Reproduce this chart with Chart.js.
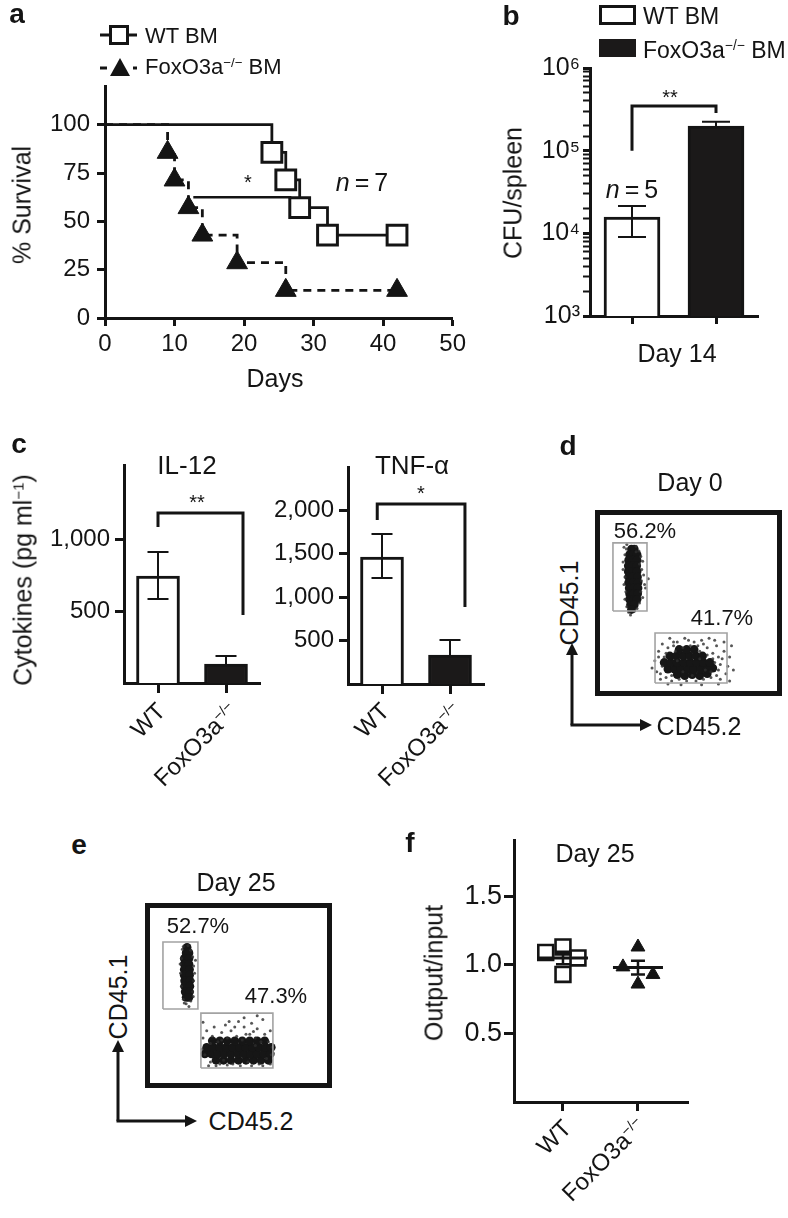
<!DOCTYPE html>
<html><head><meta charset="utf-8">
<script src="https://cdn.jsdelivr.net/npm/chart.js@4"></script>
<style>
body{margin:0;background:#fff;}
#fig{position:relative;width:788px;height:1218px;overflow:hidden;background:#fff;font-family:'Liberation Sans',Arial,Helvetica,sans-serif;color:#141414;}
canvas{position:absolute;}
.t{position:absolute;white-space:nowrap;line-height:1;}
.t sup{font-size:60%;line-height:0;vertical-align:0.55em;}
svg{position:absolute;overflow:visible;}
</style></head><body><div id="fig"></div>
<script>
// ---------------- DATA ----------------
// a: Kaplan-Meier survival
const survDaysWT = [0, 24, 26, 28, 32, 42];
const survWT     = [100, 85.7, 71.4, 57.1, 42.9, 42.9];
const survDaysKO = [0, 9, 10, 12, 14, 19, 26, 42];
const survKO     = [100, 85.7, 71.4, 57.1, 42.9, 28.6, 14.3, 14.3];
const survSigDays = [12.7, 26.8];
const survSigLevel = 62.5;
const survXTicks = [0, 10, 20, 30, 40, 50];
const survYTicks = [0, 25, 50, 75, 100];

// b: CFU per spleen (log axis)
const cfuGroups = ['WT BM', 'FoxO3a−/− BM'];
const cfuMean   = [15700, 198000];
const cfuHigh   = [21400, 224000];
const cfuLow    = [9000, 198000];
const cfuBracket = {left: 100000, top: 347000, right: 285000};

// c: cytokines
const cytoGroups = ['WT', 'FoxO3a−/−'];
const il12Mean = [743, 132];
const il12High = [910, 188];
const il12Low  = [583, 132];
const il12Ticks = [500, 1000];
const il12Bracket = {left: 1083, top: 1180, right: 472};
const tnfMean = [1463, 334];
const tnfHigh = [1728, 507];
const tnfLow  = [1221, 334];
const tnfTicks = [500, 1000, 1500, 2000];
const tnfBracket = {left: 1889, top: 2074, right: 887};

// d, e: flow cytometry (CD45.2 on x, CD45.1 on y, 0-100 display units)
const dGates = [[9.6, 45.7, 27.8, 82.3], [32.1, 7.0, 70.6, 33.9]];
const dCore1 = [[19.5,79],[21,79],[18.5,76],[20.5,76],[22.5,76],[18,73],[20.3,73],[22.5,73],[17.8,70],[20,70],[22.3,70],[17.8,67],[20,67],[22.5,67],[18,64],[20.3,64],[22.7,64],[18,61],[20.5,61],[23,61],[18.3,58],[20.7,58],[23,58],[18.5,55],[20.8,55],[22.8,55],[18.5,52],[20.7,52],[22.5,52],[19,49],[21,49],[19.5,46.5]];
const dDots1 = [[15.5,80],[17,81.5],[22,80.5],[23.5,78],[24.5,75],[16,76],[15,72],[23.8,71],[25,68],[26,65],[24.8,62],[28.5,63],[16,64],[15.5,60],[16.5,56],[24.5,56],[25.5,53],[23.8,50],[16,52],[17,48],[22.5,47],[18,45],[19,43.5],[21,45.5],[27,58],[22,77.5],[15,68],[25.5,72.5],[26.5,60],[16.8,79]];
const dCore2 = [[44,11.5],[48,11],[52,11.5],[56,11],[60,12],[39,14.5],[42.5,14.5],[46,14.5],[49.5,14.5],[53,14.5],[56.5,14.5],[60,14.5],[63,15],[37,18],[40.5,18],[44,18],[47.5,18],[51,18],[54.5,18],[58,18],[61.5,18],[40,21.5],[43.5,21.5],[47,21.5],[50.5,21.5],[54,21.5],[57.5,21.5],[45,25],[49,25],[53,25]];
const dDots2 = [[32,19],[33,13],[34,24],[35,9],[36,28],[37,21],[38,10],[39,26],[40,31],[41,8],[43,24],[44,29],[45,9],[47,26],[48,31],[49,8],[51,27],[53,29],[54,8],[56,24],[57,30],[58,9],[60,26],[61,31],[62,10],[63,23],[64,18],[65,27],[66,14],[67,9],[68,20],[69,24],[70,12],[71,16],[72,8],[44,19],[56,20],[62,13],[36,16],[67,17],[73,27],[59,14],[47,13],[52,11],[30.5,15],[34,21],[42,27],[50,30],[55,27],[64,30],[69,29],[72,21],[74,14],[39,6.5],[46,6],[57,6],[66,6.5],[35,12],[38,23],[41,11],[60,22],[63,20],[65,11],[66,21],[42,29],[58,28]];
const eGates = [[9.6, 42.7, 28.3, 78.9], [29.9, 10.8, 68.4, 40.5]];
const eCore1 = [[22.5,76],[22,73],[23.5,73],[21,70],[23.5,70],[21,67],[23.5,67],[21,64],[23.8,64],[21,61],[23.8,61],[21.2,58],[24,58],[21.2,55],[24,55],[21.5,52],[23.8,52],[22,49],[23.5,49]];
const eDots1 = [[20,75],[24.5,74.5],[25.5,71],[19.5,70],[26,66],[19,62],[26,58],[19.5,55],[25.5,52],[20.5,48],[24.5,47],[22,45.5],[23.5,44],[26.5,62],[18.8,67],[21,46],[25.8,49.5],[27,69],[20.5,76.5],[23,77]];
const eCore2 = [[38,15],[42,15],[46,15],[50,15],[54,15],[58,15],[62,15],[66,15],[32,18.5],[35.5,18.5],[39,18.5],[42.5,18.5],[46,18.5],[49.5,18.5],[53,18.5],[56.5,18.5],[60,18.5],[63.5,18.5],[67,18.5],[33,22],[36.5,22],[40,22],[43.5,22],[47,22],[50.5,22],[54,22],[57.5,22],[61,22],[64.5,22],[67.5,22],[36,25.5],[40,25.5],[44,25.5],[48,25.5],[52,25.5],[56,25.5],[60,25.5],[64,25.5]];
const eDots2 = [[31,27],[32,18],[33,31],[35,14],[36,28],[37,33],[39,25],[40,13],[41,30],[43,34],[44,27],[46,31],[47,13],[49,28],[50,36],[52,26],[53,33],[55,14],[56,29],[57,35],[59,27],[60,32],[61,13],[62,25],[63,37],[64,29],[65,16],[66,25],[67,31],[67.5,18],[68,22],[53,38],[45,36],[35,24],[59,23],[42,15],[31,35.5],[60,39],[30.5,21],[34,12],[38,12],[44,12.5],[51,12],[57,12],[63,12],[67,13],[48,33],[41,26],[58,30.5],[54,29]];

// f: output/input ratio
const ratioGroups = ['WT', 'FoxO3a−/−'];
const ratioWT = [1.09, 1.13, 1.05, 0.93];
const ratioKO = [1.13, 0.985, 0.93, 0.86];
const ratioMean = [1.05, 0.98];
const ratioSem  = [0.045, 0.05];
const ratioTicks = [0.5, 1.0, 1.5];

// ---------------- STYLE / HELPERS ----------------
const FONT = "'Liberation Sans', Arial, Helvetica, sans-serif";
const INK = '#141414';
Chart.defaults.font.family = FONT;
Chart.defaults.color = INK;
const fig = document.getElementById('fig');

function makeCanvas(x, y, w, h) {
  const c = document.createElement('canvas');
  c.width = w; c.height = h;
  c.style.left = x + 'px'; c.style.top = y + 'px';
  c.style.width = w + 'px'; c.style.height = h + 'px';
  fig.appendChild(c);
  return c;
}
const fixW = w => s => { s.width = w; };
const fixH = h => s => { s.height = h; };
const setTicks = vals => s => { s.ticks = vals.map(v => ({value: v})); };
function gridOpt(len) {
  return {display: true, drawOnChartArea: false, drawTicks: true, tickLength: len, tickWidth: 3, color: INK};
}
const borderOpt = {display: true, width: 3, color: INK};
const baseOpts = {responsive: false, animation: false, devicePixelRatio: 1, events: []};

const annot = {
  id: 'annot',
  afterDatasetsDraw(chart, args, o) {
    const ctx = chart.ctx, xs = chart.scales.x, ys = chart.scales.y;
    ctx.save();
    ctx.strokeStyle = INK;
    (o.errors || []).forEach(e => {
      const x = chart.getDatasetMeta(0).data[e.i].x;
      const yh = ys.getPixelForValue(e.hi), yl = ys.getPixelForValue(e.lo);
      ctx.lineWidth = 2;
      ctx.beginPath();
      ctx.moveTo(x, yl); ctx.lineTo(x, yh);
      ctx.moveTo(x - o.cap / 2, yh); ctx.lineTo(x + o.cap / 2, yh);
      if (e.lo < e.m) { ctx.moveTo(x - o.cap / 2, yl); ctx.lineTo(x + o.cap / 2, yl); }
      ctx.stroke();
    });
    (o.brackets || []).forEach(b => {
      const x1 = xs.getPixelForValue(b.x1), x2 = xs.getPixelForValue(b.x2);
      ctx.lineWidth = 3;
      ctx.beginPath();
      ctx.moveTo(x1, ys.getPixelForValue(b.left));
      ctx.lineTo(x1, ys.getPixelForValue(b.top));
      ctx.lineTo(x2, ys.getPixelForValue(b.top));
      ctx.lineTo(x2, ys.getPixelForValue(b.right));
      ctx.stroke();
    });
    (o.means || []).forEach(m => {
      const x = xs.getPixelForValue(m.x);
      const ym = ys.getPixelForValue(m.m), yh = ys.getPixelForValue(m.m + m.s), yl = ys.getPixelForValue(m.m - m.s);
      ctx.lineWidth = 3;
      ctx.beginPath();
      ctx.moveTo(x - o.meanHalf, ym); ctx.lineTo(x + o.meanHalf, ym);
      ctx.stroke();
      ctx.lineWidth = 2.5;
      ctx.beginPath();
      ctx.moveTo(x, yl); ctx.lineTo(x, yh);
      ctx.moveTo(x - o.capHalf, yh); ctx.lineTo(x + o.capHalf, yh);
      ctx.moveTo(x - o.capHalf, yl); ctx.lineTo(x + o.capHalf, yl);
      ctx.stroke();
    });
    ctx.restore();
  }
};
const frame = {
  id: 'frame',
  afterDraw(chart) {
    const a = chart.chartArea, ctx = chart.ctx;
    ctx.save(); ctx.strokeStyle = INK; ctx.lineWidth = 5;
    ctx.strokeRect(a.left + 2.5, a.top + 2.5, a.right - a.left - 5, a.bottom - a.top - 5);
    ctx.restore();
  }
};

function txt(html, x, y, o = {}) {
  const d = document.createElement('div');
  d.className = 't'; d.innerHTML = html;
  d.style.fontSize = (o.size || 25) + 'px';
  if (o.bold) d.style.fontWeight = 'bold';
  if (o.italic) d.style.fontStyle = 'italic';
  if (o.anchor === 'left') {
    d.style.left = x + 'px'; d.style.top = y + 'px'; d.style.transform = 'translate(0,-50%)';
  } else if (o.anchor === 'rot45') {
    d.style.right = (788 - x) + 'px'; d.style.top = y + 'px';
    d.style.transformOrigin = '100% 50%';
    d.style.transform = 'translateY(-50%) rotate(-45deg)';
  } else {
    d.style.left = x + 'px'; d.style.top = y + 'px';
    d.style.transform = 'translate(-50%,-50%)' + (o.rot ? ' rotate(' + o.rot + 'deg)' : '');
  }
  fig.appendChild(d);
}
function svg(inner, x, y, w, h) {
  const s = document.createElementNS('http://www.w3.org/2000/svg', 'svg');
  s.setAttribute('width', w); s.setAttribute('height', h);
  s.style.left = x + 'px'; s.style.top = y + 'px';
  s.innerHTML = inner;
  fig.appendChild(s);
}
const KO = 'FoxO3a<sup>−/−</sup>';

// ---------------- PANEL a ----------------
new Chart(makeCanvas(0, 0, 470, 400), {
  type: 'line',
  data: {datasets: [
    {label: 'WT BM', data: survDaysWT.map((d, i) => ({x: d, y: survWT[i]})), stepped: 'before',
     borderColor: INK, borderWidth: 2.8, fill: false, pointStyle: 'rect',
     pointRadius: survDaysWT.map((d, i) => i === 0 ? 0 : 14), pointBackgroundColor: '#fff',
     pointBorderColor: INK, pointBorderWidth: 3},
    {label: 'FoxO3a−/− BM', data: survDaysKO.map((d, i) => ({x: d, y: survKO[i]})), stepped: 'before',
     borderColor: INK, borderWidth: 2.8, borderDash: [8, 6], fill: false, pointStyle: 'triangle',
     pointRadius: survDaysKO.map((d, i) => i === 0 ? 0 : 12), pointBackgroundColor: INK,
     pointBorderColor: INK, pointBorderWidth: 1},
    {label: 'p', data: survSigDays.map(d => ({x: d, y: survSigLevel})), borderColor: INK, borderWidth: 2.5, pointRadius: 0}
  ]},
  options: Object.assign({}, baseOpts, {
    layout: {padding: {left: 35, right: 17, top: 86, bottom: 32}},
    plugins: {legend: {display: false}, tooltip: {enabled: false}},
    scales: {
      x: {type: 'linear', min: 0, max: 50, afterBuildTicks: setTicks(survXTicks), afterFit: fixH(50),
          grid: gridOpt(8), border: borderOpt, ticks: {font: {size: 24}, padding: 4, autoSkip: false, maxRotation: 0}},
      y: {type: 'linear', min: 0, max: 120, afterBuildTicks: setTicks(survYTicks), afterFit: fixW(70),
          grid: gridOpt(8), border: borderOpt, ticks: {font: {size: 24}, padding: 7, autoSkip: false}}
    }
  })
});
txt('a', 17, 14, {bold: true, size: 28});
svg('<line x1="5" y1="15" x2="42" y2="15" stroke="#141414" stroke-width="3"/>' +
    '<rect x="15.5" y="6.5" width="17" height="17" fill="#fff" stroke="#141414" stroke-width="3"/>' +
    '<line x1="5" y1="48" x2="12" y2="48" stroke="#141414" stroke-width="3"/>' +
    '<line x1="38" y1="48" x2="42" y2="48" stroke="#141414" stroke-width="3"/>' +
    '<polygon points="15,56 35,56 25,38" fill="#141414"/>', 95, 20, 50, 65);
txt('WT BM', 145, 36, {anchor: 'left', size: 22});
txt(KO + ' BM', 145, 67, {anchor: 'left', size: 22});
txt('% Survival', 22, 205, {rot: -90});
txt('Days', 275, 378);
txt('*', 248, 182, {size: 20});
txt('<i>n</i>\u2009=\u20097', 362, 182);

// ---------------- PANEL b ----------------
const supDigits = ['⁰','¹','²','³','⁴','⁵','⁶','⁷','⁸','⁹'];
new Chart(makeCanvas(470, 0, 318, 400), {
  type: 'bar',
  data: {labels: cfuGroups, datasets: [{data: cfuMean, backgroundColor: ['#fff', '#1b1919'],
    borderColor: INK, borderWidth: 3, barThickness: 56}]},
  options: Object.assign({}, baseOpts, {
    layout: {padding: {left: 60, right: 30, top: 68, bottom: 44}},
    plugins: {legend: {display: false}, tooltip: {enabled: false},
      annot: {cap: 28, errors: cfuMean.map((m, i) => ({i, m, hi: cfuHigh[i], lo: cfuLow[i]})),
              brackets: [{x1: 0, x2: 1, left: cfuBracket.left, top: cfuBracket.top, right: cfuBracket.right}]}},
    scales: {
      x: {offset: true, afterFit: fixH(40), grid: Object.assign(gridOpt(8), {offset: false}), border: borderOpt,
          ticks: {display: false}},
      y: {type: 'logarithmic', min: 1e3, max: 1e6, afterFit: fixW(60),
          grid: Object.assign(gridOpt(7), {tickWidth: c => {const l = Math.log10(c.tick ? c.tick.value : 1); return Math.abs(l - Math.round(l)) < 1e-6 ? 3 : 2;}}),
          border: borderOpt,
          ticks: {font: {size: 25}, padding: 3, autoSkip: false,
                  callback: v => {const l = Math.log10(v); const r = Math.round(l); return Math.abs(l - r) < 1e-6 ? '10' + supDigits[r] : '';}}}
    }
  }),
  plugins: [annot]
});
txt('b', 511, 16, {bold: true, size: 28});
svg('<rect x="1.5" y="1.5" width="34" height="17" fill="#fff" stroke="#141414" stroke-width="3"/>' +
    '<rect x="0" y="34" width="37" height="18" fill="#1b1919"/>', 599, 5, 40, 55);
txt('WT BM', 643, 16, {anchor: 'left', size: 23});
txt(KO + ' BM', 643, 50, {anchor: 'left', size: 23});
txt('CFU/spleen', 513, 193, {rot: -90});
txt('Day 14', 677, 353);
txt('**', 670, 97, {size: 20});
txt('<i>n</i>\u2009=\u20095', 632, 189);

// ---------------- PANEL c ----------------
function cytoChart(x0, canvasW, yW, pad, mean, hi, lo, ticks, max, br) {
  new Chart(makeCanvas(x0, 410, canvasW, 300), {
    type: 'bar',
    data: {labels: cytoGroups, datasets: [{data: mean, backgroundColor: ['#fff', '#1b1919'],
      borderColor: INK, borderWidth: 3, barThickness: 43}]},
    options: Object.assign({}, baseOpts, {
      layout: {padding: pad},
      plugins: {legend: {display: false}, tooltip: {enabled: false},
        annot: {cap: 21, errors: mean.map((m, i) => ({i, m, hi: hi[i], lo: lo[i]})), brackets: [br]}},
      scales: {
        x: {offset: true, afterFit: fixH(20), grid: Object.assign(gridOpt(10), {offset: false}), border: borderOpt,
            ticks: {display: false}},
        y: {type: 'linear', min: 0, max: max, afterBuildTicks: setTicks(ticks), afterFit: fixW(yW),
            grid: gridOpt(9), border: borderOpt,
            ticks: {font: {size: 24}, padding: 5, autoSkip: false, callback: v => v.toLocaleString('en-US')}}
      }
    }),
    plugins: [annot]
  });
}
cytoChart(0, 280, 100, {left: 24, right: 20, top: 55, bottom: 7}, il12Mean, il12High, il12Low, il12Ticks, 1514,
  {x1: 0, x2: 1.25, left: il12Bracket.left, top: il12Bracket.top, right: il12Bracket.right});
cytoChart(255, 275, 90, {left: 3, right: 46, top: 57, bottom: 6}, tnfMean, tnfHigh, tnfLow, tnfTicks, 2500,
  {x1: -0.07, x2: 1.22, left: tnfBracket.left, top: tnfBracket.top, right: tnfBracket.right});
txt('c', 19, 444, {bold: true, size: 28});
txt('IL-12', 187, 465, {size: 26});
txt('TNF-α', 412, 465, {size: 26});
txt('**', 197, 502, {size: 20});
txt('*', 421, 493, {size: 20});
txt('Cytokines (pg ml<sup>−1</sup>)', 23, 580, {rot: -90});
txt('WT', 161, 707, {anchor: 'rot45', size: 24});
txt(KO, 233, 707, {anchor: 'rot45', size: 24});
txt('WT', 385, 707, {anchor: 'rot45', size: 24});
txt(KO, 457, 707, {anchor: 'rot45', size: 24});

// ---------------- PANELS d, e ----------------
const toXY = arr => arr.map(p => ({x: p[0], y: p[1]}));
const gatePath = g => [{x: g[0], y: g[1]}, {x: g[2], y: g[1]}, {x: g[2], y: g[3]}, {x: g[0], y: g[3]}, {x: g[0], y: g[1]}];
function flowChart(x0, y0, w, h, pad, gates, cores, dots, coreR) {
  new Chart(makeCanvas(x0, y0, w, h), {
    type: 'scatter',
    data: {datasets: [].concat(
      gates.map(g => ({data: gatePath(g), showLine: true, borderColor: '#a3a3a3', borderWidth: 1.6, pointRadius: 0})),
      dots.map(a => ({data: toXY(a), pointRadius: 1.5, pointBackgroundColor: 'rgba(45,45,45,0.8)', pointBorderWidth: 0})),
      cores.map(a => ({data: toXY(a), pointRadius: coreR, pointBackgroundColor: '#161616', pointBorderWidth: 0}))
    )},
    options: Object.assign({}, baseOpts, {
      layout: {padding: pad},
      plugins: {legend: {display: false}, tooltip: {enabled: false}},
      scales: {x: {type: 'linear', min: 0, max: 100, display: false}, y: {type: 'linear', min: 0, max: 100, display: false}}
    }),
    plugins: [frame]
  });
}
flowChart(585, 495, 203, 215, {left: 10, right: 6, top: 15, bottom: 14}, dGates, [dCore1, dCore2], [dDots1, dDots2], 4.4);
flowChart(135, 890, 210, 210, {left: 10, right: 13, top: 13, bottom: 12}, eGates, [eCore1, eCore2], [eDots1, eDots2], 4.4);

txt('d', 568, 446, {bold: true, size: 28});
txt('Day 0', 690, 482);
txt('56.2%', 645, 531, {size: 22});
txt('41.7%', 722, 618, {size: 22});
txt('CD45.1', 569, 603, {rot: -90});
txt('CD45.2', 699, 726);
svg('<line x1="12" y1="82" x2="12" y2="10" stroke="#141414" stroke-width="3"/>' +
    '<line x1="10.5" y1="82" x2="84" y2="82" stroke="#141414" stroke-width="3"/>' +
    '<polygon points="12,0 6,12 18,12" fill="#141414"/>' +
    '<polygon points="92,82 80,76 80,88" fill="#141414"/>', 560, 643, 100, 100);

txt('e', 79, 845, {bold: true, size: 28});
txt('Day 25', 236, 882);
txt('52.7%', 198, 926, {size: 22});
txt('47.3%', 276, 996, {size: 22});
txt('CD45.1', 118, 997, {rot: -90});
txt('CD45.2', 251, 1121);
svg('<line x1="12" y1="81" x2="12" y2="10" stroke="#141414" stroke-width="3"/>' +
    '<line x1="10.5" y1="81" x2="80" y2="81" stroke="#141414" stroke-width="3"/>' +
    '<polygon points="12,0 6,12 18,12" fill="#141414"/>' +
    '<polygon points="91,81 79,75 79,87" fill="#141414"/>', 106, 1040, 100, 100);

// ---------------- PANEL f ----------------
const jitterWT = [-0.23, 0, 0.2, 0];
const jitterKO = [0, -0.2, 0.2, 0];
new Chart(makeCanvas(390, 820, 398, 398), {
  type: 'scatter',
  data: {datasets: [
    {data: ratioWT.map((v, i) => ({x: 1 + jitterWT[i], y: v})), pointStyle: 'rect', pointRadius: 10.5,
     pointBackgroundColor: 'rgba(0,0,0,0)', pointBorderColor: INK, pointBorderWidth: 2.6},
    {data: ratioKO.map((v, i) => ({x: 2 + jitterKO[i], y: v})), pointStyle: 'triangle', pointRadius: 8,
     pointBackgroundColor: INK, pointBorderColor: INK, pointBorderWidth: 1}
  ]},
  options: Object.assign({}, baseOpts, {
    layout: {padding: {left: 54, right: 100, top: 20, bottom: 96}},
    plugins: {legend: {display: false}, tooltip: {enabled: false},
      annot: {meanHalf: 25, capHalf: 7, means: ratioMean.map((m, i) => ({x: i + 1, m, s: ratioSem[i]}))}},
    scales: {
      x: {type: 'linear', min: 0.347, max: 2.667, afterBuildTicks: setTicks([1, 2]), afterFit: fixH(20),
          grid: gridOpt(9), border: borderOpt, ticks: {display: false}},
      y: {type: 'linear', min: 0, max: 1.91, afterBuildTicks: setTicks(ratioTicks), afterFit: fixW(70),
          grid: gridOpt(10), border: borderOpt,
          ticks: {font: {size: 27}, padding: 2, autoSkip: false, callback: v => v.toFixed(1)}}
    }
  }),
  plugins: [annot]
});
txt('f', 410, 843, {bold: true, size: 28});
txt('Day 25', 595, 853);
txt('Output/input', 434, 973, {rot: -90});
txt('WT', 567, 1124, {anchor: 'rot45', size: 24});
txt(KO, 641, 1122, {anchor: 'rot45', size: 24});
</script></body></html>
